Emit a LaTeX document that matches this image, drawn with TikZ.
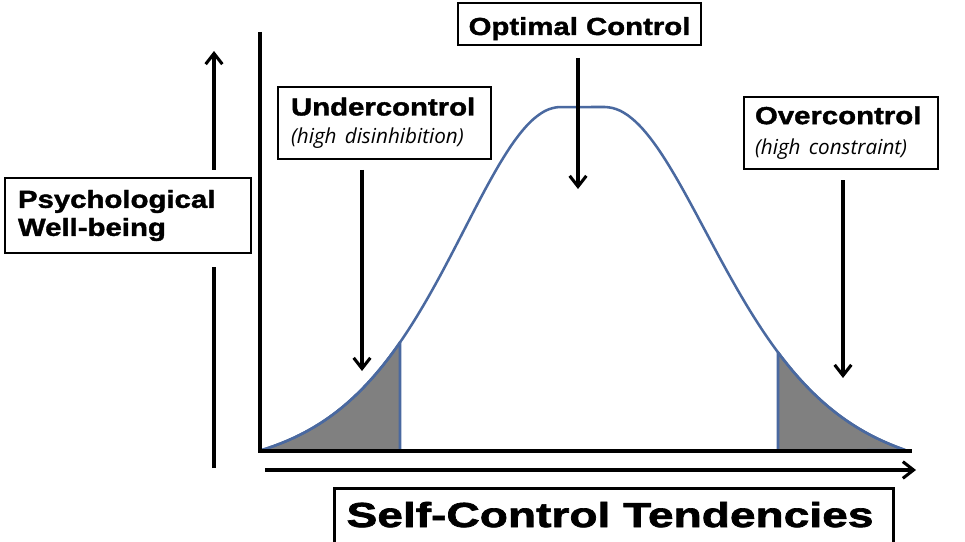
\documentclass[tikz,border=0pt]{standalone}
\usepackage{fontspec}
\usetikzlibrary{arrows.meta}
\newfontfamily\labfont[FakeStretch=1.19,FakeBold=1.6]{Liberation Sans}
\newfontfamily\bigfont[FakeStretch=1.33,FakeBold=2]{Liberation Sans}
\newfontfamily\itfont{Open Sans}
\definecolor{curveblue}{RGB}{74,105,160}
\definecolor{shadegray}{RGB}{128,128,128}
\begin{document}
\begin{tikzpicture}[x=0.75pt,y=-0.75pt,
  box/.style={draw=black, line width=2pt, fill=white, inner ysep=0pt},
  axisline/.style={line width=2.5pt, black, line join=miter},
  arr/.style={line width=2.3pt, black, -{Straight Barb[length=8pt,width=12.5pt,line width=2.3pt]}},
  plain/.style={line width=2.3pt, black},
  bluecurve/.style={line width=1.9pt, curveblue, line join=round},
  labfs/.style={font=\fontsize{18.5}{21}\selectfont},
  declare function={lcur(\t)=450 - 343*(1/(cosh((\t-560)/145)*cosh((\t-560)/145)) - 0.0634)/0.9366;
                    rcur(\t)=450 - 343*(1/(cosh((\t-605)/152)*cosh((\t-605)/152)) - 0.0742)/0.9258;}
]
\useasboundingbox (0,0) rectangle (965,542);
\clip (0,0) rectangle (965,542);
% shaded tails
\filldraw[fill=shadegray, draw=curveblue, line width=1.9pt, line join=round]
  (262,451) -- plot[domain=262:400, samples=40, variable=\t] (\t, {lcur(\t)}) -- (400,451) -- cycle;
\filldraw[fill=shadegray, draw=curveblue, line width=1.9pt, line join=round]
  (778,451) -- plot[domain=778:905, samples=40, variable=\t] (\t, {rcur(\t)}) -- cycle;
% bell curve
\draw[bluecurve]
  plot[domain=262:560, samples=80, variable=\t] (\t, {lcur(\t)})
  -- plot[domain=605:905, samples=80, variable=\t] (\t, {rcur(\t)});
% axes
\coordinate (ytop) at (260,32);
\coordinate (origin) at (260,451);
\coordinate (xend) at (912,451);
\draw[axisline] (ytop) -- (origin) -- (xend);
% boxes
\node[box, labfs, minimum width=184.5pt, minimum height=56.25pt, text width=165pt, inner xsep=9.75pt, align=left]
  (pw) at (128,215.5) {\labfont\bfseries Psychological\\\labfont\bfseries Well-being};
\node[box, labfs, minimum width=159.75pt, minimum height=54pt, text width=140.25pt, inner xsep=9.75pt, align=left]
  (uc) at (384.5,123) {\labfont\bfseries Undercontrol\\\itfont\mdseries\itshape\fontsize{15.5}{21}\selectfont (high disinhibition)};
\node[box, labfs, minimum width=182.25pt, minimum height=31.5pt, align=center, text height=18pt, text depth=1.5pt]
  (oc) at (579.5,24) {\labfont\bfseries Optimal Control};
\node[box, font=\fontsize{18.5}{23}\selectfont, minimum width=145.5pt, minimum height=54pt, text width=129pt, inner xsep=8.25pt, align=left]
  (ov) at (841,133) {\labfont\bfseries Overcontrol\\\itfont\mdseries\itshape\fontsize{15.5}{23}\selectfont (high constraint)};
\node[box, minimum width=419.25pt, minimum height=80pt, anchor=north west] (sctbox) at (333,487) {};
\node[anchor=base, inner sep=0pt, font=\bigfont\bfseries\fontsize{26}{30}\selectfont] (sct) at (610,527) {Self-Control Tendencies};
% arrows
\coordinate (ua1) at (362,170); \coordinate (ua2) at (362,371);
\coordinate (oa1) at (578,58); \coordinate (oa2) at (578,189);
\coordinate (va1) at (843,180); \coordinate (va2) at (843,378);
\coordinate (la0) at (214,468); \coordinate (la1) at (214,267);
\coordinate (la2) at (214,170); \coordinate (la3) at (214,51);
\coordinate (ba1) at (265,470); \coordinate (ba2) at (916,470);
\draw[arr] (ua1) -- (ua2);
\draw[arr] (oa1) -- (oa2);
\draw[arr] (va1) -- (va2);
\draw[plain] (la0) -- (la1);
\draw[arr] (la2) -- (la3);
\draw[arr] (ba1) -- (ba2);
\end{tikzpicture}
\end{document}
